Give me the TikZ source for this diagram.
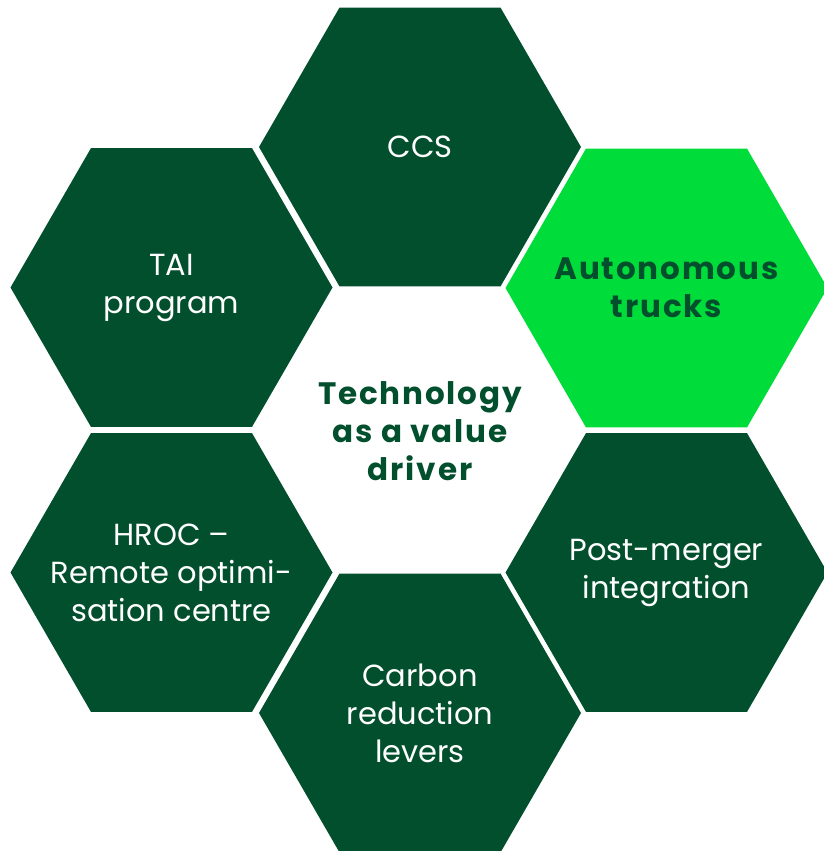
\documentclass[tikz,border=0pt]{standalone}
\usepackage{fontspec}
\setmainfont{Poppins}
\usetikzlibrary{shapes.geometric}
\definecolor{hexdark}{RGB}{2,79,45}
\definecolor{hexbright}{RGB}{0,221,58}
\tikzset{
  hexagon/.style={regular polygon, regular polygon sides=6,
    minimum size=322pt, inner sep=0pt, fill=hexdark},
  hexlight/.style={hexagon, fill=hexbright},
  hextext/.style={align=center, text=white, font=\fontsize{30.5}{38}\selectfont},
  hubtext/.style={align=center, text=hexdark,
    font=\fontsize{31}{38}\selectfont\bfseries\addfontfeatures{LetterSpace=6}}
}
\begin{document}
\begin{tikzpicture}[x=1pt,y=-1pt]
\useasboundingbox (0,0) rectangle (823,851);
% ring of hexagons
\node[hexagon] (ccs) at (420,147) {};
\node[hexagon] (tai) at (171.5,287.5) {};
\node[hexlight] (trucks) at (666.5,288) {};
\node[hexagon] (hroc) at (171.5,572.5) {};
\node[hexagon] (merger) at (666.5,572.5) {};
\node[hexagon] (carbon) at (420,713) {};
% labels
\node[hextext] (ccs-t) at (ccs) {CCS};
\node[hextext] (tai-t) at (tai) {TAI\\program};
\node[hubtext] (trucks-t) at (trucks) {Autonomous\\trucks};
\node[hextext] (hroc-t) at (hroc) {HROC --\\Remote optimi-\\sation centre};
\node[hextext] (merger-t) at (merger) {Post-merger\\integration};
\node[hextext] (carbon-t) at (carbon) {Carbon\\reduction\\levers};
\node[hubtext] (hub) at (420,431) {Technology\\as a value\\driver};
\end{tikzpicture}
\end{document}
